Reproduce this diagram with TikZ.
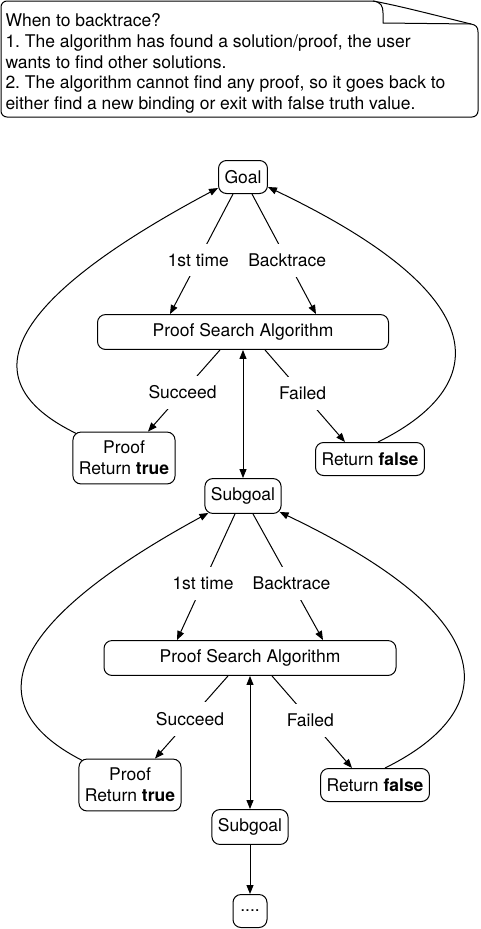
\documentclass[tikz,border=0pt]{standalone}
\usepackage{fontspec}
\setmainfont{TeX Gyre Heros}
\usetikzlibrary{arrows.meta}
\frenchspacing
\tikzset{
	box/.style={draw, rounded corners=8pt, fill=white, minimum height=33pt, inner xsep=6pt, inner ysep=9pt, align=center},
	lbl/.style={fill=white, inner xsep=3pt, inner ysep=10pt},
	tip/.style={-{Triangle[length=9pt,width=7pt]}},
	both/.style={{Triangle[length=9pt,width=7pt]}-{Triangle[length=9pt,width=7pt]}}
}

\begin{document}
\begin{tikzpicture}[x=1pt, y=-1pt, line width=1pt, every node/.append style={font=\fontsize{17.5pt}{20.8pt}\selectfont}]
	\useasboundingbox (0,0) rectangle (480,929);

	\draw[rounded corners=6pt] (373,1) -- (1,1) -- (1,117) -- (478,117) -- (478,32);
	\draw (478,32) .. controls (478,27) and (476,25) .. (471,24) .. controls (430,14) and (400,6) .. (373,1);
	\draw (373,1) .. controls (381,2) and (383,6) .. (383,13) -- (383,23) -- (471,24);
	\node[anchor=north west, align=left, inner sep=0pt] (note) at (5,13) {When to backtrace?\\1. The algorithm has found a solution/proof, the user\\wants to find other solutions.\\2. The algorithm cannot find any proof, so it goes back to\\either find a new binding or exit with false truth value.};

	\node[box] (goal) at (243,177) {Goal};
	\node[box, minimum width=291pt] (psaA) at (243,332) {Proof Search Algorithm};
	\node[box] (proofA) at (124,458) {Proof\\Return \textbf{true}};
	\node[box] (falseA) at (370,459) {Return \textbf{false}};
	\node[box] (subA) at (243,496) {Subgoal};
	\node[box, minimum width=292pt] (psaB) at (250,658) {Proof Search Algorithm};
	\node[box] (proofB) at (130,785) {Proof\\Return \textbf{true}};
	\node[box] (falseB) at (375,785) {Return \textbf{false}};
	\node[box] (subB) at (250,827) {Subgoal};
	\node[box, minimum width=34pt] (dots) at (250,911) {....};

	\draw[tip] ([xshift=-10pt]goal.south) -- node[lbl, pos=.55]{1st time} ([xshift=-73pt]psaA.north);
	\draw[tip] ([xshift=9pt]goal.south) -- node[lbl, pos=.55]{Backtrace} ([xshift=73pt]psaA.north);
	\draw[tip] ([xshift=-23pt]psaA.south) -- node[lbl, pos=.52]{Succeed} ([xshift=24pt]proofA.north);
	\draw[tip] ([xshift=22pt]psaA.south) -- node[lbl, pos=.47]{Failed} ([xshift=-25pt]falseA.north);
	\draw[both] (psaA) -- (subA);
	\draw[tip] ([xshift=4pt,yshift=-2pt]proofA.north west) .. controls +(-99,-48) and +(-229,122) .. ([yshift=-11pt]goal.west);
	\draw[tip] ([xshift=8pt]falseA.north) .. controls +(103.5,-51) and +(243,116) .. ([yshift=-10pt]goal.east);

	\draw[tip] ([xshift=-8pt]subA.south) -- node[lbl, pos=.55]{1st time} ([xshift=-73pt]psaB.north);
	\draw[tip] ([xshift=10pt]subA.south) -- node[lbl, pos=.55]{Backtrace} ([xshift=73pt]psaB.north);
	\draw[tip] ([xshift=-22pt]psaB.south) -- node[lbl, pos=.52]{Succeed} ([xshift=25pt]proofB.north);
	\draw[tip] ([xshift=22pt]psaB.south) -- node[lbl, pos=.48]{Failed} ([xshift=-23pt]falseB.north);
	\draw[both] (psaB) -- (subB);
	\draw[tip] ([xshift=4pt,yshift=-2pt]proofB.north west) .. controls +(-94,-48) and +(-224,122) .. ([xshift=4pt,yshift=1pt]subA.south west);
	\draw[tip] ([xshift=10pt]falseB.north) .. controls +(103.5,-51) and +(243,116) .. ([xshift=-2pt,yshift=2pt]subA.south east);
	\draw[tip] (subB) -- (dots);
\end{tikzpicture}
\end{document}
